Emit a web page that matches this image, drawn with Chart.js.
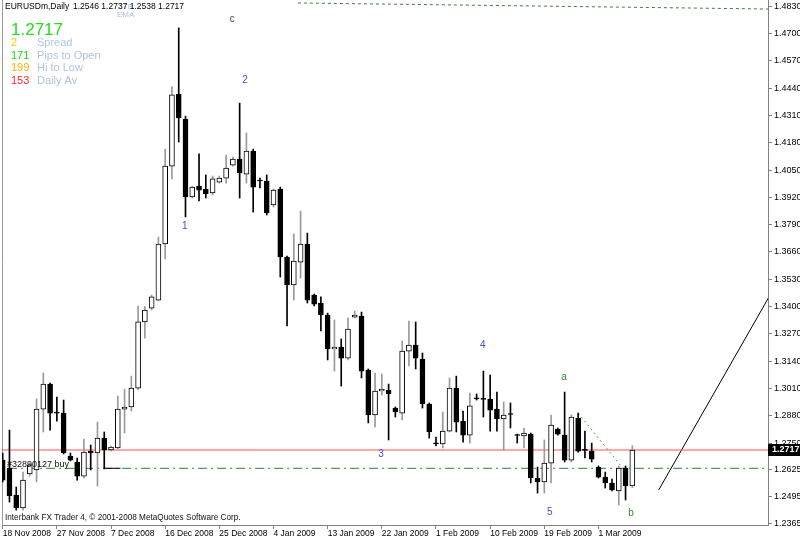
<!DOCTYPE html>
<html>
<head>
<meta charset="utf-8">
<script src="https://cdn.jsdelivr.net/npm/chart.js@4.4.1/dist/chart.umd.min.js"></script>
<style>
  html, body { margin: 0; padding: 0; background: #fff; }
  canvas { display: block; }
</style>
</head>
<body>
<canvas id="eurusd-chart" width="800" height="540"></canvas>
<script>
// Daily EURUSDm bars, 18 Nov 2008 .. 5 Mar 2009 (index 0 = 18 Nov)
const opens = [1.2669, 1.2631, 1.2503, 1.2441, 1.2603, 1.2622, 1.2912, 1.3031, 1.2898, 1.2893,
  1.2688, 1.2660, 1.2593, 1.2712, 1.2703, 1.2774, 1.2717, 1.2727, 1.2912, 1.2922,
  1.3012, 1.3327, 1.3393, 1.3431, 1.3698, 1.4069, 1.4412, 1.4293, 1.3922, 1.3974,
  1.3960, 1.3941, 1.3993, 1.4012, 1.4074, 1.4103, 1.4031, 1.4141, 1.4003, 1.3998,
  1.3884, 1.3960, 1.3636, 1.3503, 1.3612, 1.3698, 1.3455, 1.3417, 1.3360, 1.3198,
  1.3207, 1.3155, 1.3350, 1.3355, 1.3098, 1.2884, 1.2998, 1.3003, 1.2917, 1.2893,
  1.3188, 1.3217, 1.3150, 1.2936, 1.2750, 1.2746, 1.2807, 1.3012, 1.2855, 1.2788,
  1.2965, 1.2960, 1.2960, 1.2912, 1.2865, 1.2888, 1.2788, 1.2784, 1.2793, 1.2584,
  1.2565, 1.2655, 1.2817, 1.2788, 1.2669, 1.2869, 1.2717, 1.2712, 1.2636, 1.2588,
  1.2560, 1.2522, 1.2631, 1.2546];
const highs = [1.2703, 1.2812, 1.2541, 1.2612, 1.2655, 1.2960, 1.3084, 1.3036, 1.2969, 1.2955,
  1.2703, 1.2679, 1.2769, 1.2741, 1.2850, 1.2803, 1.2736, 1.2974, 1.3007, 1.3069,
  1.3403, 1.3400, 1.3455, 1.3731, 1.4150, 1.4446, 1.4727, 1.4307, 1.3974, 1.4127,
  1.4027, 1.4022, 1.4022, 1.4122, 1.4112, 1.4369, 1.4227, 1.4150, 1.4012, 1.4027,
  1.3960, 1.3969, 1.3641, 1.3746, 1.3855, 1.3750, 1.3460, 1.3446, 1.3369, 1.3336,
  1.3246, 1.3346, 1.3379, 1.3374, 1.3103, 1.3084, 1.3079, 1.3031, 1.2922, 1.3236,
  1.3331, 1.3327, 1.3179, 1.2941, 1.2779, 1.2898, 1.3060, 1.3069, 1.2903, 1.2988,
  1.2984, 1.3093, 1.3074, 1.2993, 1.2946, 1.2941, 1.2793, 1.2822, 1.2798, 1.2636,
  1.2765, 1.2884, 1.2822, 1.2993, 1.2884, 1.2893, 1.2807, 1.2750, 1.2641, 1.2612,
  1.2579, 1.2641, 1.2641, 1.2737];
const lows = [1.2565, 1.2469, 1.2431, 1.2431, 1.2593, 1.2565, 1.2803, 1.2812, 1.2855, 1.2698,
  1.2665, 1.2574, 1.2584, 1.2622, 1.2546, 1.2627, 1.2712, 1.2722, 1.2798, 1.2903,
  1.3003, 1.3250, 1.3384, 1.3427, 1.3627, 1.4008, 1.4184, 1.3827, 1.3917, 1.3903,
  1.3917, 1.3931, 1.3988, 1.3988, 1.4069, 1.3917, 1.3988, 1.3850, 1.3965, 1.3836,
  1.3874, 1.3541, 1.3308, 1.3431, 1.3536, 1.3417, 1.3403, 1.3284, 1.3146, 1.3093,
  1.3022, 1.3146, 1.3346, 1.3060, 1.2846, 1.2827, 1.2979, 1.2765, 1.2874, 1.2860,
  1.3117, 1.3103, 1.2917, 1.2774, 1.2736, 1.2727, 1.2803, 1.2803, 1.2755, 1.2750,
  1.2955, 1.2874, 1.2807, 1.2807, 1.2717, 1.2822, 1.2750, 1.2727, 1.2560, 1.2512,
  1.2512, 1.2560, 1.2788, 1.2660, 1.2660, 1.2707, 1.2679, 1.2660, 1.2584, 1.2536,
  1.2522, 1.2455, 1.2479, 1.2538];
const closes = [1.2574, 1.2498, 1.2441, 1.2574, 1.2646, 1.2912, 1.3031, 1.2893, 1.2893, 1.2703,
  1.2669, 1.2593, 1.2707, 1.2703, 1.2774, 1.2717, 1.2731, 1.2912, 1.2922, 1.3012,
  1.3327, 1.3384, 1.3446, 1.3698, 1.4069, 1.4408, 1.4298, 1.3922, 1.3969, 1.3955,
  1.3936, 1.4008, 1.4012, 1.4060, 1.4103, 1.4036, 1.4141, 1.3969, 1.3998, 1.3846,
  1.3955, 1.3636, 1.3503, 1.3617, 1.3698, 1.3431, 1.3412, 1.3360, 1.3198, 1.3207,
  1.3155, 1.3293, 1.3360, 1.3093, 1.2884, 1.2998, 1.3007, 1.2984, 1.2898, 1.3188,
  1.3217, 1.3155, 1.2936, 1.2803, 1.2746, 1.2807, 1.3012, 1.2850, 1.2788, 1.2927,
  1.2960, 1.2958, 1.2907, 1.2865, 1.2884, 1.2886, 1.2786, 1.2798, 1.2584, 1.2565,
  1.2655, 1.2836, 1.2793, 1.2669, 1.2874, 1.2712, 1.2715, 1.2674, 1.2588, 1.2560,
  1.2527, 1.2631, 1.2546, 1.2717];

// time axis labels (every 8th bar)
const dateTicks = [0, 8, 16, 24, 32, 40, 48, 56, 64, 72, 80, 88];
const dateLabels = ['18 Nov 2008', '27 Nov 2008', '7 Dec 2008', '16 Dec 2008', '25 Dec 2008',
  '4 Jan 2009', '13 Jan 2009', '22 Jan 2009', '1 Feb 2009', '10 Feb 2009', '19 Feb 2009', '1 Mar 2009'];

// price axis labels
const priceTicks = [1.4830, 1.4700, 1.4570, 1.4440, 1.4310, 1.4180, 1.4050, 1.3920, 1.3790,
  1.3660, 1.3530, 1.3400, 1.3270, 1.3140, 1.3010, 1.2880, 1.2750, 1.2625, 1.2495, 1.2365];

const lastPrice = 1.2717;
const orderPrice = 1.2630;
const orderLabel = '#32890127 buy';

// Elliott wave labels
const waveNames = ['1', '2', '3', '4', '5', 'a', 'b', 'c'];
const waveIdx = [26.9, 35.8, 55.9, 70.9, 80.8, 82.9, 92.8, 33.9];
const wavePrice = [1.3784, 1.4479, 1.2698, 1.3217, 1.2422, 1.3065, 1.2417, 1.4770];

// drawn objects (index, price pairs)
const topLineIdx = [43.6, 113.1];
const topLinePrice = [1.4846, 1.4817];
const dotLineIdx = [85, 91.4];
const dotLinePrice = [1.2893, 1.2638];
const trendIdx = [96.9, 113.1];
const trendPrice = [1.2527, 1.3441];

// info panel
const infoValues = ['2', '171', '199', '153'];
const infoNames = ['Spread', 'Pips to Open', 'Hi to Low', 'Daily Av'];

const X_MIN = -0.103;
const X_MAX = 113.04;

const bodies = opens.map((o, i) => ({ x: i, y: [o, closes[i]] }));
const wicks = lows.map((l, i) => ({ x: i, y: [l, highs[i]] }));
const isBull = i => closes[i] >= opens[i];

function pts(xs, ys) {
    return xs.map((x, i) => ({ x: x, y: ys[i] }));
}

Chart.defaults.font.family = "'Liberation Sans', Arial, sans-serif";

// texts, price tag and the left border
const mtOverlay = {
    id: 'mtOverlay',
    beforeDatasetsDraw(chart) {
        const ctx = chart.ctx;
        const a = chart.chartArea;
        ctx.save();
        ctx.strokeStyle = '#9a9a9a';
        ctx.lineWidth = 1;
        ctx.beginPath();
        ctx.moveTo(a.left + 0.5, a.top);
        ctx.lineTo(a.left + 0.5, a.bottom);
        ctx.stroke();
        ctx.restore();
    },
    afterDraw(chart) {
        const ctx = chart.ctx;
        const xs = chart.scales.x;
        const ys = chart.scales.y;
        const a = chart.chartArea;
        ctx.save();
        ctx.textBaseline = 'middle';
        ctx.textAlign = 'left';

        // header
        ctx.fillStyle = '#b4c2dc';
        ctx.font = "8px 'Liberation Sans'";
        ctx.fillText('ZTB', 118, 7);
        ctx.fillText('EMA', 117, 15);
        ctx.fillStyle = '#000';
        ctx.font = "8.5px 'Liberation Sans'";
        ctx.fillText('EURUSDm,Daily', 5, 7);
        ctx.fillText(opens[93].toFixed(4) + ' ' + highs[93].toFixed(4) + ' ' +
            lows[93].toFixed(4) + ' ' + closes[93].toFixed(4), 73, 7);

        // info panel
        ctx.fillStyle = '#22dd22';
        ctx.font = "17px 'Liberation Sans'";
        ctx.fillText(lastPrice.toFixed(4), 11, 30);
        const numColors = ['#ffc800', '#11dd11', '#ffb000', '#ff2828'];
        ctx.font = "11px 'Liberation Sans'";
        infoValues.forEach((v, i) => {
            const y = 43 + i * 12.6;
            ctx.fillStyle = numColors[i];
            ctx.fillText(v, 11, y);
            ctx.fillStyle = '#b0c4de';
            ctx.fillText(infoNames[i], 37, y);
        });

        // wave labels
        ctx.font = "10px 'Liberation Sans'";
        ctx.textAlign = 'center';
        waveNames.forEach((n, i) => {
            if (n === 'c') ctx.fillStyle = '#444';
            else if (/[a-z]/.test(n)) ctx.fillStyle = '#2e8b2e';
            else ctx.fillStyle = '#4a4acc';
            ctx.fillText(n, xs.getPixelForValue(waveIdx[i]), ys.getPixelForValue(wavePrice[i]));
        });

        // order label
        ctx.textAlign = 'left';
        ctx.fillStyle = '#111';
        ctx.font = "9px 'Liberation Sans'";
        ctx.fillText(orderLabel, 7, ys.getPixelForValue(orderPrice) - 4);

        // copyright line
        ctx.font = "8.2px 'Liberation Sans'";
        ctx.fillText('Interbank FX Trader 4, \u00a9 2001-2008 MetaQuotes Software Corp.', 5, a.bottom - 7);

        // current price tag on the axis
        const py = Math.round(ys.getPixelForValue(lastPrice));
        ctx.fillStyle = '#000';
        ctx.fillRect(a.right, py - 6, 800 - a.right, 12);
        ctx.fillStyle = '#fff';
        ctx.font = "bold 9px 'Liberation Sans'";
        ctx.fillText(lastPrice.toFixed(4), a.right + 4, py);
        ctx.restore();
    }
};

const lineDefaults = { type: 'line', pointRadius: 0, borderWidth: 1, fill: false, order: 2 };

const config = {
    type: 'bar',
    data: {
        datasets: [
            {
                label: 'bodies',
                data: bodies,
                grouped: false,
                barThickness: 5,
                minBarLength: 1,
                borderWidth: 1,
                borderSkipped: false,
                borderColor: '#000',
                backgroundColor: ctx => isBull(ctx.dataIndex) ? '#fff' : '#000',
                order: 0
            },
            {
                label: 'wicks',
                data: wicks,
                grouped: false,
                barThickness: 1,
                borderWidth: 0,
                backgroundColor: ctx => isBull(ctx.dataIndex) ? '#9a9a9a' : '#000',
                order: 1
            },
            Object.assign({}, lineDefaults, {
                label: 'last',
                data: pts([X_MIN, X_MAX], [lastPrice, lastPrice]),
                borderColor: '#ff5050'
            }),
            Object.assign({}, lineDefaults, {
                label: 'order',
                data: pts([0.8, X_MAX], [orderPrice, orderPrice]),
                borderColor: '#2e7d32',
                borderDash: [9, 4, 2, 4]
            }),
            Object.assign({}, lineDefaults, {
                label: 'order open',
                data: pts([15, 17.4], [orderPrice, orderPrice]),
                borderColor: '#000',
                order: 1
            }),
            Object.assign({}, lineDefaults, {
                label: 'top',
                data: pts(topLineIdx, topLinePrice),
                borderColor: '#3d7d3d',
                borderDash: [3, 3]
            }),
            Object.assign({}, lineDefaults, {
                label: 'dots',
                data: pts(dotLineIdx, dotLinePrice),
                borderColor: '#4f9f4f',
                borderDash: [2, 3]
            }),
            Object.assign({}, lineDefaults, {
                label: 'trend',
                data: pts(trendIdx, trendPrice),
                borderColor: '#000'
            })
        ]
    },
    options: {
        responsive: false,
        animation: false,
        events: [],
        layout: { padding: { left: 2, top: 0, right: 0, bottom: 0 } },
        plugins: {
            legend: { display: false },
            tooltip: { enabled: false }
        },
        scales: {
            x: {
                type: 'linear',
                position: 'bottom',
                min: X_MIN,
                max: X_MAX,
                offset: false,
                afterBuildTicks: scale => {
                    scale.ticks = dateTicks.map(v => ({ value: v }));
                },
                afterFit: scale => {
                    scale.height = 15;
                    scale.paddingLeft = 0;
                    scale.paddingRight = 0;
                },
                grid: { offset: false, drawOnChartArea: false, drawTicks: true, tickLength: 4, color: '#808080' },
                border: { display: true, color: '#808080' },
                ticks: {
                    align: 'start',
                    autoSkip: false,
                    maxRotation: 0,
                    padding: 0,
                    color: '#000',
                    font: { size: 8.5 },
                    callback: (value, index) => dateLabels[index]
                }
            },
            y: {
                type: 'linear',
                position: 'right',
                min: 1.2360,
                max: 1.4860,
                afterBuildTicks: scale => {
                    scale.ticks = priceTicks.map(v => ({ value: v }));
                },
                afterFit: scale => {
                    scale.width = 32;
                    scale.paddingTop = 0;
                    scale.paddingBottom = 0;
                },
                grid: { drawOnChartArea: false, drawTicks: true, tickLength: 4, color: '#808080' },
                border: { display: true, color: '#808080' },
                ticks: {
                    padding: 2,
                    color: '#000',
                    font: { size: 9 },
                    callback: value => value.toFixed(4)
                }
            }
        }
    },
    plugins: [mtOverlay]
};

// Renderizar el gráfico
const ctx = document.getElementById('eurusd-chart').getContext('2d');
new Chart(ctx, config);
</script>
</body>
</html>
